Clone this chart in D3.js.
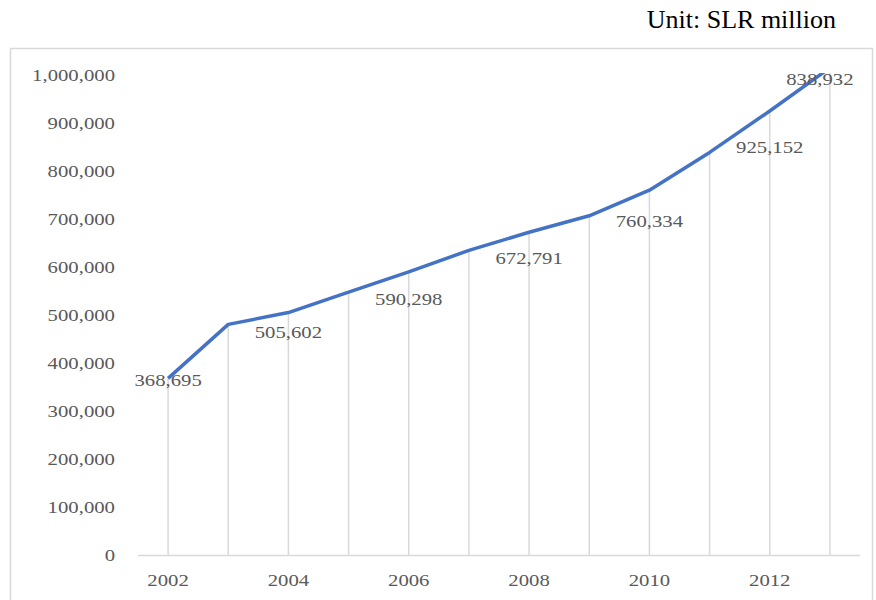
<!DOCTYPE html>
<html>
<head>
<meta charset="utf-8">
<script src="https://cdn.jsdelivr.net/npm/d3@7"></script>
<style>
  html, body { margin: 0; padding: 0; background: #fff; }
  svg { display: block; }
</style>
</head>
<body>
<svg id="chart" width="876" height="600"></svg>
<script>
// Annual figures, SLR million
const years = [2002, 2003, 2004, 2005, 2006, 2007, 2008, 2009, 2010, 2011, 2012, 2013];
const values = [368695, 481000, 505602, 548000, 590298, 635000, 672791, 707000, 760334, 838932, 925152, 1015000];

// Years whose figure is printed; the 2011 figure is printed at the end of the line
const labelYears = [2002, 2004, 2006, 2008, 2010, 2012, 2011];
const xTickYears = [2002, 2004, 2006, 2008, 2010, 2012];
const yTickValues = [0, 100000, 200000, 300000, 400000, 500000, 600000, 700000, 800000, 900000, 1000000];
const unitText = "Unit: SLR million";

const data = years.map((y, i) => ({ year: y, value: values[i] }));

const W = 876, H = 600;
const plot = { left: 138, right: 860, top: 75, bottom: 555.5 };
const textColor = "#595959";
const gridColor = "#d9d9d9";
const fontFamily = "'Liberation Serif', 'Times New Roman', serif";
const fs = 17, sx = 1.22;

const svg = d3.select("#chart");

const x = d3.scalePoint().domain(years).range([plot.left, plot.right]).padding(0.5);
const y = d3.scaleLinear().domain([0, 1000000]).range([plot.bottom, plot.top]);

// outer chart frame
svg.append("rect")
  .attr("x", 10.5).attr("y", 48.5)
  .attr("width", 862).attr("height", 580)
  .attr("fill", "none").attr("stroke", gridColor).attr("stroke-width", 1.5);

// unit note
svg.append("text")
  .attr("x", 836).attr("y", 28)
  .attr("text-anchor", "end")
  .attr("font-family", fontFamily).attr("font-size", 26)
  .attr("fill", "#000")
  .text(unitText);

// clip everything above the axis maximum
svg.append("clipPath").attr("id", "plotClip")
  .append("rect").attr("x", 0).attr("y", plot.top - 2).attr("width", W).attr("height", H);

const g = svg.append("g").attr("clip-path", "url(#plotClip)");

// drop lines from the axis to the series
g.selectAll("line.drop").data(data).join("line")
  .attr("class", "drop")
  .attr("x1", d => x(d.year)).attr("x2", d => x(d.year))
  .attr("y1", plot.bottom).attr("y2", d => y(d.value))
  .attr("stroke", gridColor).attr("stroke-width", 1.5);

// category axis line
svg.append("line")
  .attr("x1", plot.left).attr("x2", plot.right)
  .attr("y1", plot.bottom).attr("y2", plot.bottom)
  .attr("stroke", gridColor).attr("stroke-width", 1.5);

// series line
const line = d3.line().x(d => x(d.year)).y(d => y(d.value));
g.append("path")
  .datum(data)
  .attr("d", line)
  .attr("fill", "none")
  .attr("stroke", "#4472C4")
  .attr("stroke-width", 3.5)
  .attr("stroke-linejoin", "round");

// helper for horizontally widened text
function wideText(sel, px, py, anchor, str, size) {
  sel.append("text")
    .attr("transform", `translate(${px},${py}) scale(${sx},1)`)
    .attr("text-anchor", anchor)
    .attr("dominant-baseline", "central")
    .attr("font-family", fontFamily)
    .attr("font-size", size || fs)
    .attr("fill", textColor)
    .text(str);
}

// value axis labels
const fmt = d3.format(",");
yTickValues.forEach(v => wideText(svg, 115, y(v), "end", fmt(v)));

// category labels
xTickYears.forEach(yr => wideText(svg, x(yr), 580, "middle", String(yr)));

// data labels
const labelDy = [2, 20, 27, 26, 31, 36, 4];
const last = data[data.length - 1], prev = data[data.length - 2];
const yMax = y.domain()[1];
const t = (yMax - prev.value) / (last.value - prev.value);
const endX = x(prev.year) + t * (x(last.year) - x(prev.year));
labelYears.forEach((yr, i) => {
  const d = data.find(p => p.year === yr);
  let px, py;
  if (yr === 2011) { px = endX; py = y(yMax); }
  else { px = x(yr); py = y(d.value); }
  wideText(svg, px, py + labelDy[i], "middle", fmt(d.value));
});
</script>
</body>
</html>
